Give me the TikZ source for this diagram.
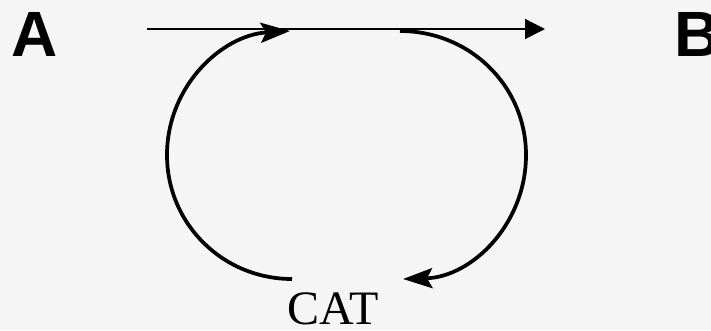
\documentclass[tikz,border=0pt]{standalone}
\usepackage{fontspec}
\setmainfont{Liberation Serif}
\newfontfamily\headfont{Liberation Sans}
\usepackage{tikz}
\usetikzlibrary{arrows.meta}
\definecolor{paper}{HTML}{F5F5F5}

\begin{document}
\begin{tikzpicture}[x=0.75pt, y=-0.75pt,
    endlbl/.style={font=\headfont\bfseries\fontsize{48}{48}\selectfont, anchor=base, inner sep=0pt},
    catlbl/.style={font=\fontsize{36}{36}\selectfont, anchor=base, inner sep=0pt},
    arr/.style={-{Triangle[length=15pt, width=15pt]}, line width=1pt},
    cycarr/.style={-{Stealth[length=22pt, width=15pt, inset=4pt]}, line width=2.8pt}]
  \fill[paper] (0,0) rectangle (711,330);
  \useasboundingbox (0,0) rectangle (711,330);

  \node[endlbl] (A) at (35,56) {A};
  \node[endlbl] (B) at (698,56) {B};
  \node[catlbl] (cat) at (333,324) {CAT};

  \coordinate (start) at (147,29);
  \coordinate (stop)  at (545,29);
  \coordinate (catout) at (292,279);
  \coordinate (left)   at (167,155);
  \coordinate (join)   at (290,31);
  \coordinate (split)  at (400,31);
  \coordinate (right)  at (526,155);
  \coordinate (catin)  at (403,279);

  \draw[arr] (start) -- (stop);
  \draw[cycarr] (catout) .. controls (223,279) and (167,224) .. (left)
                .. controls (167,86) and (222,35) .. (join);
  \draw[cycarr] (split) .. controls (470,31) and (526,86) .. (right)
                .. controls (526,224) and (472,277) .. (catin);
\end{tikzpicture}
\end{document}
